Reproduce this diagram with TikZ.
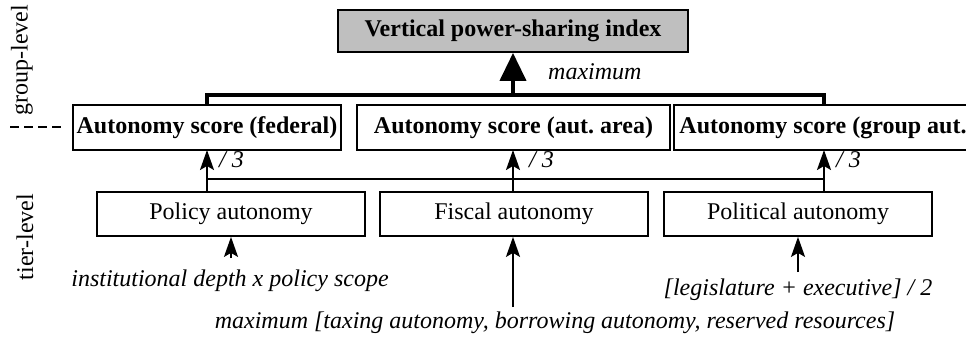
\documentclass[tikz,border=0pt]{standalone}
\usepackage{fontspec}
\setmainfont{Liberation Serif}
\usetikzlibrary{arrows.meta,calc}

\newcommand\diagsize{\fontsize{24}{28}\selectfont}

\tikzset{
  box/.style={draw, line width=1.8pt, fill=white, inner sep=0pt, align=center},
  topbox/.style={box, fill=black!25, font=\diagsize\bfseries},
  grpbox/.style={box, font=\diagsize\bfseries, minimum height=45},
  tierbox/.style={box, font=\diagsize, minimum width=268, minimum height=44},
  lbl/.style={font=\diagsize\itshape, inner sep=0pt},
  thinarrow/.style={line width=1.8pt, -{Stealth[length=20pt,width=14pt,inset=4pt]}},
  thinline/.style={line width=1.8pt},
  thickline/.style={line width=4pt},
  thickarrow/.style={line width=4pt, -{Triangle[length=28pt,width=26pt]}},
  side/.style={rotate=90, inner sep=0pt, font=\diagsize}
}

\begin{document}
\begin{tikzpicture}[x=1pt, y=-1pt]
\useasboundingbox (0,0) rectangle (966,338);
\clip (0,0) rectangle (966,338);

% level labels at the left margin
\node[side] (grplevel) at (22,60) {group-level};
\node[side] (tierlevel) at (25,237) {tier-level};
\draw[line width=1.5pt, dash pattern=on 9pt off 5pt] (10,127) -- (62,127);

% index at the top
\node[topbox, minimum width=350, minimum height=42] (index) at (513,31) {Vertical power-sharing index};

% group-level autonomy scores
\node[grpbox, minimum width=268] (fed) at (207,127.5) {Autonomy score (federal)};
\node[grpbox, minimum width=313] (area) at (513.5,127.5) {Autonomy score (aut.\ area)};
\node[grpbox, minimum width=306] (grp) at (827,127.5) {Autonomy score (group aut.)};

% tier-level dimensions
\node[tierbox] (pol) at (231,214) {Policy autonomy};
\node[tierbox] (fis) at (514,214) {Fiscal autonomy};
\node[tierbox] (polit) at (798,214) {Political autonomy};

% attachment points
\coordinate (fedtop) at (207,105);
\coordinate (grptop) at (824,105);
\coordinate (bus) at (513,95);
\coordinate (fedbot) at (207,150);
\coordinate (areabot) at (513,150);
\coordinate (grpbot) at (824,150);
\coordinate (poltop) at (207,192);
\coordinate (fistop) at (513,192);
\coordinate (polittop) at (824,192);
\coordinate (lowbusL) at (207,179);
\coordinate (lowbusR) at (824,179);

% maximum over group-level scores
\draw[thickline] (fedtop) |- (bus) -| (grptop);
\draw[thickarrow] (bus) -- (index.south -| bus);
\node[lbl, anchor=west] (maxlbl) at (548,72) {maximum};

% each tier feeds every group score (divided by 3)
\draw[thinline] (lowbusL) -- (lowbusR);
\draw[thinarrow] (poltop) -- (fedbot);
\draw[thinarrow] (fistop) -- (areabot);
\draw[thinarrow] (polittop) -- (grpbot);
\node[lbl, anchor=west] (d1) at (219,160) {/ 3};
\node[lbl, anchor=west] (d2) at (529,160) {/ 3};
\node[lbl, anchor=west] (d3) at (836,160) {/ 3};

% component formulas
\node[lbl] (polf) at (230,281) {institutional depth x policy scope};
\node[lbl] (fisf) at (555,323) {maximum [taxing autonomy, borrowing autonomy, reserved resources]};
\node[lbl] (politf) at (798,290) {[legislature + executive] / 2};
\coordinate (polsrc) at (231,258);
\coordinate (fissrc) at (513,307);
\coordinate (politsrc) at (798,272);
\draw[thinarrow] (polsrc) -- (polsrc |- pol.south);
\draw[thinarrow] (fissrc) -- (fissrc |- fis.south);
\draw[thinarrow] (politsrc) -- (politsrc |- polit.south);
\end{tikzpicture}
\end{document}
